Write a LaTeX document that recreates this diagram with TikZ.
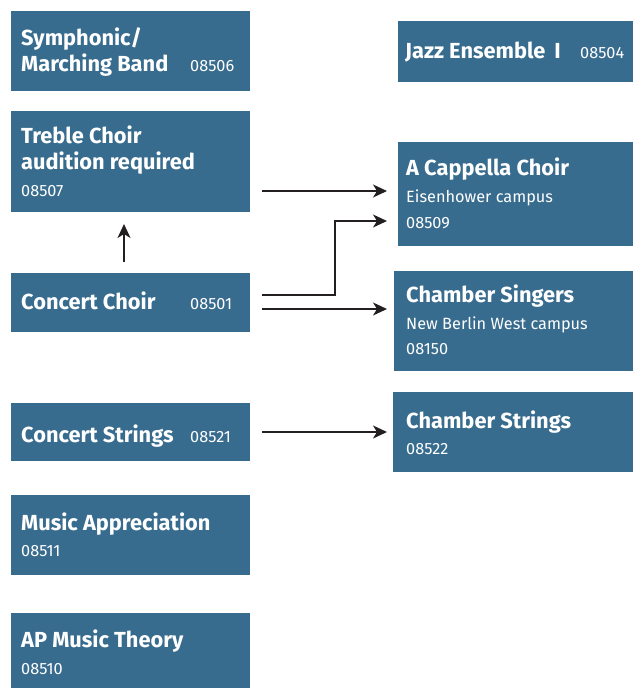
\documentclass[tikz,border=0pt]{standalone}
\usepackage{fontspec}
\setmainfont{Fira Sans}
\usetikzlibrary{arrows.meta,calc}
\definecolor{boxblue}{RGB}{56,108,142}
\definecolor{arrowcol}{RGB}{35,31,32}
\begin{document}
\begin{tikzpicture}[x=1pt,y=-1pt,
  box/.style={fill=boxblue, draw=none, anchor=north west, inner sep=0pt, outer sep=0pt},
  ttl/.style={anchor=base west, inner sep=0pt, text=white, font=\fontsize{21.8}{26}\selectfont\bfseries},
  num/.style={anchor=base west, inner sep=0pt, text=white, font=\fontsize{16.3}{19}\selectfont},
  conn/.style={draw=arrowcol, line width=1.6pt, -{Stealth[length=14pt,width=13pt,inset=4pt]}}]
\useasboundingbox (0,0) rectangle (633,688);
% left column
\node[box, minimum width=239pt, minimum height=80pt] (sym) at (11,11) {};
\node[ttl] (symA) at (21,45) {Symphonic/};
\node[ttl] (symB) at (21,71) {Marching Band};
\node[num] (symN) at (190,71) {08506};

\node[box, minimum width=239pt, minimum height=101pt] (treble) at (11,111) {};
\node[ttl] (treA) at (21,143) {Treble Choir};
\node[ttl] (treB) at (21,169) {audition required};
\node[num] (treN) at (21,196) {08507};

\node[box, minimum width=239pt, minimum height=59pt] (cchoir) at (11,273) {};
\node[ttl] (ccA) at (21,309) {Concert Choir};
\node[num] (ccN) at (190,309) {08501};

\node[box, minimum width=239pt, minimum height=58pt] (cstr) at (11,403) {};
\node[ttl] (csA) at (21,442) {Concert Strings};
\node[num] (csN) at (190,442) {08521};

\node[box, minimum width=239pt, minimum height=80pt] (mapp) at (11,495) {};
\node[ttl] (maA) at (21,530) {Music Appreciation};
\node[num] (maN) at (21,556) {08511};

\node[box, minimum width=239pt, minimum height=75pt] (apmt) at (11,613) {};
\node[ttl] (apA) at (21,647) {AP Music Theory};
\node[num] (apN) at (21,674) {08510};

% right column
\node[box, minimum width=235pt, minimum height=61pt] (jazz) at (398,21) {};
\node[ttl] (jzA) at (405,58) {Jazz Ensemble\hspace{9pt}I};
\node[num] (jzN) at (580,58) {08504};

\node[box, minimum width=235pt, minimum height=104pt] (acap) at (398,142) {};
\node[ttl] (acA) at (406,175) {A Cappella Choir};
\node[num] (acB) at (406,202) {Eisenhower campus};
\node[num] (acN) at (406,228) {08509};

\node[box, minimum width=239pt, minimum height=100pt] (csing) at (394,271) {};
\node[ttl] (sgA) at (406,302) {Chamber Singers};
\node[num] (sgB) at (406,329) {New Berlin West campus};
\node[num] (sgN) at (406,354) {08150};

\node[box, minimum width=240pt, minimum height=80pt] (chstr) at (393,392) {};
\node[ttl] (chA) at (406,428) {Chamber Strings};
\node[num] (chN) at (406,454) {08522};

% connectors
\coordinate (t1) at ($(treble.north east)+(12,80)$);
\coordinate (a1) at ($(acap.north west)+(-11,49)$);
\draw[conn] (t1) -- (a1);

\coordinate (c0) at ($(cchoir.north west)+(113,-11)$);
\coordinate (t0) at ($(treble.south west)+(113,12)$);
\draw[conn] (c0) -- (t0);

\coordinate (c1) at ($(cchoir.north east)+(12,22)$);
\coordinate (a2) at ($(acap.north west)+(-11,79)$);
\draw[conn] (c1) -- ($(c1)+(73,0)$) |- (a2);

\coordinate (c2) at ($(cchoir.north east)+(12,36)$);
\coordinate (s1) at ($(csing.north west)+(-7,38)$);
\draw[conn] (c2) -- (s1);

\coordinate (cs1) at ($(cstr.north east)+(12,29)$);
\coordinate (ch1) at ($(chstr.north west)+(-6,40)$);
\draw[conn] (cs1) -- (ch1);
\end{tikzpicture}
\end{document}
